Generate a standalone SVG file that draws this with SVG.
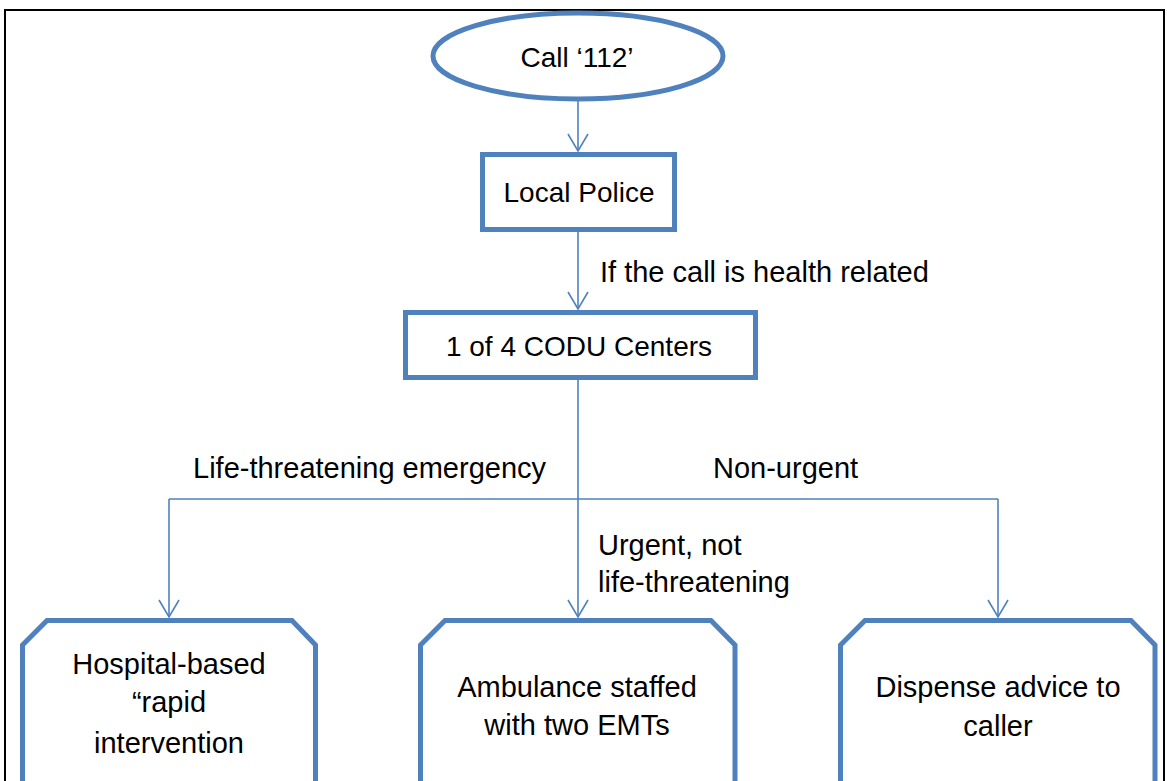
<svg xmlns="http://www.w3.org/2000/svg" width="1167" height="781" viewBox="0 0 1167 781">
  <style>
    .node { fill: #ffffff; stroke: #4F81BD; stroke-width: 5; stroke-linejoin: miter; }
    .edge { fill: none; stroke: #4F81BD; stroke-width: 1.6; }
    .label { font-family: "Liberation Sans", Arial, sans-serif; font-size: 29px; fill: #000000; }
    .top { font-size: 28px; }
    .mid { text-anchor: middle; }
  </style>
  <defs>
    <marker id="arrow" viewBox="0 0 20 22" refX="18" refY="11" markerWidth="20" markerHeight="22" markerUnits="userSpaceOnUse" orient="auto">
      <path d="M1,1 L18,11 L1,21" fill="none" stroke="#4F81BD" stroke-width="1.6"/>
    </marker>
  </defs>

  <rect x="0" y="0" width="1167" height="781" fill="#ffffff"/>
  <!-- page frame -->
  <rect x="5" y="10" width="1159" height="800" fill="none" stroke="#000000" stroke-width="2"/>

  <!-- connectors -->
  <g id="connectors">
    <line class="edge" x1="578" y1="100" x2="578" y2="151" marker-end="url(#arrow)"/>
    <line class="edge" x1="578" y1="232" x2="578" y2="309" marker-end="url(#arrow)"/>
    <line class="edge" x1="578" y1="380" x2="578" y2="499"/>
    <line class="edge" x1="169" y1="499" x2="998" y2="499"/>
    <line class="edge" x1="169" y1="499" x2="169" y2="617" marker-end="url(#arrow)"/>
    <line class="edge" x1="578" y1="499" x2="578" y2="617" marker-end="url(#arrow)"/>
    <line class="edge" x1="998" y1="499" x2="998" y2="617" marker-end="url(#arrow)"/>
    <text class="label" x="600" y="282">If the call is health related</text>
    <text class="label" x="193" y="478">Life-threatening emergency</text>
    <text class="label" x="713" y="478">Non-urgent</text>
    <text class="label" x="598" y="555">Urgent, not</text>
    <text class="label" x="598" y="592">life-threatening</text>
  </g>

  <g id="call-112">
    <ellipse class="node" cx="578" cy="56" rx="145" ry="43"/>
    <text class="label top mid" x="577" y="67">Call ‘112’</text>
  </g>

  <g id="local-police">
    <rect class="node" x="482.5" y="154.5" width="192" height="75"/>
    <text class="label top mid" x="579" y="202">Local Police</text>
  </g>

  <g id="codu-centers">
    <rect class="node" x="405.5" y="312.5" width="350" height="65"/>
    <text class="label top mid" x="579" y="356">1 of 4 CODU Centers</text>
  </g>

  <g id="rapid-intervention">
    <polygon class="node" points="22.5,645 47,620.5 292,620.5 315.5,645 315.5,795 22.5,795"/>
    <text class="label mid" x="169" y="674">Hospital-based</text>
    <text class="label mid" x="169" y="712">“rapid</text>
    <text class="label mid" x="169" y="753">intervention</text>
  </g>

  <g id="ambulance">
    <polygon class="node" points="420.5,645 445,620.5 711,620.5 735,645 735,795 420.5,795"/>
    <text class="label mid" x="577" y="697">Ambulance staffed</text>
    <text class="label mid" x="577" y="735">with two EMTs</text>
  </g>

  <g id="dispense-advice">
    <polygon class="node" points="840.5,645 865,620.5 1131,620.5 1155,645 1155,795 840.5,795"/>
    <text class="label mid" x="998" y="697">Dispense advice to</text>
    <text class="label mid" x="998" y="736">caller</text>
  </g>
</svg>
